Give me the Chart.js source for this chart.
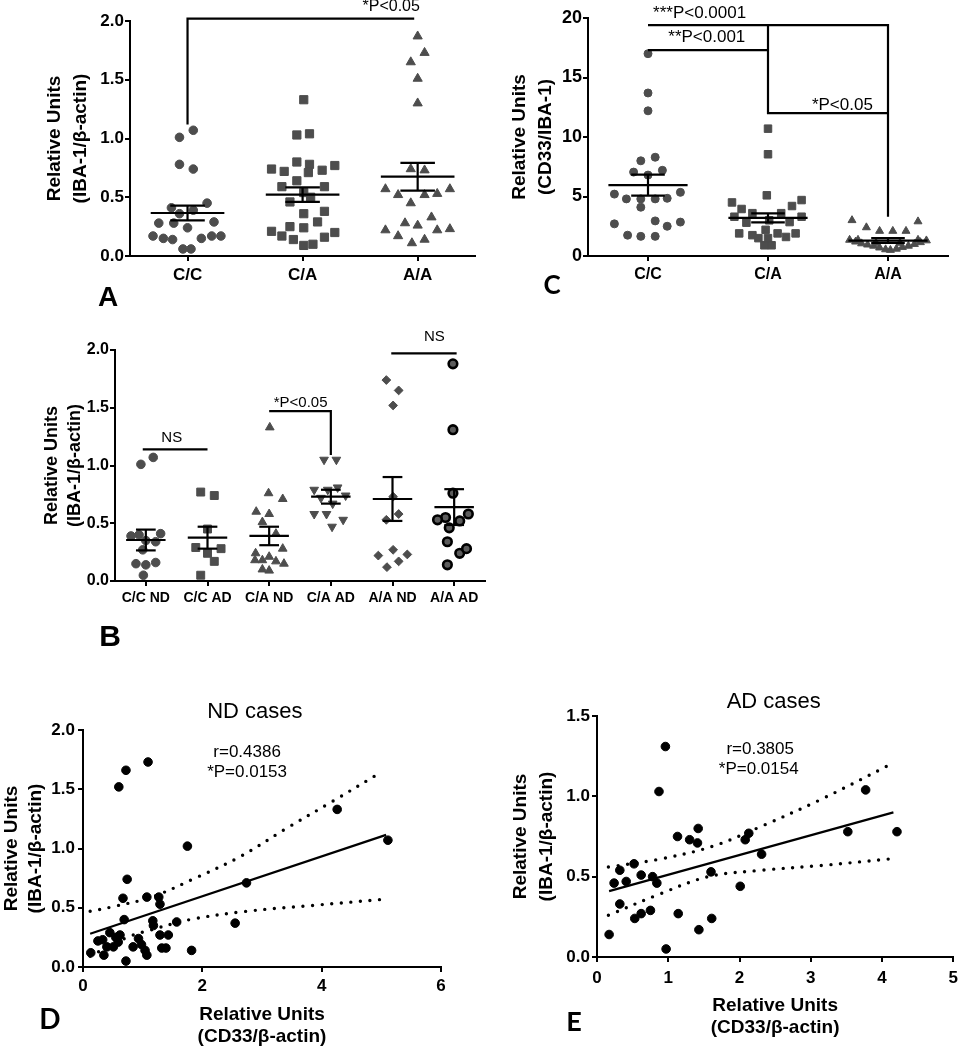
<!DOCTYPE html>
<html>
<head>
<meta charset="utf-8">
<script src="https://cdn.jsdelivr.net/npm/chart.js@4.4.1/dist/chart.umd.min.js"></script>
<style>
body { margin: 0; background: #fff; }
#wrap { position: relative; width: 964px; height: 1050px; }
canvas { position: absolute; }
</style>
</head>
<body>
<div id="wrap">
  <canvas id="chartA" style="left:0;top:0" width="482" height="312"></canvas>
  <canvas id="chartC" style="left:482px;top:0" width="482" height="312"></canvas>
  <canvas id="chartB" style="left:0;top:320px" width="500" height="335"></canvas>
  <canvas id="chartD" style="left:0;top:680px" width="470" height="370"></canvas>
  <canvas id="chartE" style="left:480px;top:680px" width="484" height="370"></canvas>
</div>
<script>
// ---------- panel A : IBA-1/beta-actin by genotype ----------
var aCats = ['C/C', 'C/A', 'A/A'];
var aCC  = [1.01, 1.07, 0.78, 0.74, 0.45, 0.41, 0.39, 0.36, 0.28, 0.28, 0.24, 0.29, 0.17, 0.15, 0.14, 0.15, 0.17, 0.17, 0.06, 0.06];
var aCCj = [-0.07, 0.05, -0.07, 0.05, 0.17, -0.14, 0.05, -0.07, -0.25, -0.12, 0.00, 0.23, -0.30, -0.21, -0.13, 0.12, 0.21, 0.29, -0.04, 0.03];
var aCA  = [0.74, 0.72, 0.80, 0.78, 0.71, 0.73, 0.77, 1.03, 1.04, 1.33, 0.64, 0.59, 0.59, 0.54, 0.50, 0.46, 0.36, 0.38, 0.29, 0.25, 0.24, 0.21, 0.17, 0.14, 0.16, 0.20, 0.09, 0.10];
var aCAj = [-0.27, -0.16, -0.05, 0.06, 0.05, 0.17, 0.28, -0.05, 0.06, 0.01, -0.05, -0.18, 0.19, 0.01, 0.07, -0.11, 0.01, 0.19, 0.13, -0.11, 0.01, -0.27, -0.18, -0.08, 0.19, 0.28, 0.01, 0.09];
var aAA  = [1.87, 1.73, 1.65, 1.51, 1.30, 0.74, 0.73, 0.57, 0.52, 0.45, 0.52, 0.53, 0.57, 0.33, 0.28, 0.26, 0.22, 0.22, 0.23, 0.17, 0.11, 0.14];
var aAAj = [0.00, 0.06, -0.06, 0.00, 0.00, -0.06, 0.06, -0.28, -0.17, -0.06, 0.06, 0.17, 0.28, 0.12, -0.11, 0.00, -0.28, 0.17, 0.28, -0.17, -0.05, 0.06];
var aMean = [0.366, 0.522, 0.675];
var aSem  = [0.063, 0.062, 0.118];
var aBrX = [[0, 0, 1.97]];
var aBrY = [[1.12, 2.02, 2.02]];
var aNote = ['*P<0.05'], aNoteX = [1.77], aNoteY = [2.12];

// ---------- panel C : CD33/IBA-1 by genotype ----------
var cCats = ['C/C', 'C/A', 'A/A'];
var cCC  = [17.0, 13.7, 12.2, 8.0, 8.3, 7.05, 7.2, 6.8, 5.2, 5.35, 4.8, 4.8, 4.8, 4.85, 4.1, 2.7, 2.95, 2.85, 2.5, 1.75, 1.65, 1.65];
var cCCj = [0, 0, 0, -0.06, 0.06, -0.12, 0.12, 0, -0.28, 0.27, -0.18, -0.06, 0.06, 0.16, -0.06, -0.28, 0.06, 0.27, 0.16, -0.17, -0.06, 0.06];
var cCA  = [10.7, 8.55, 5.1, 4.5, 4.7, 3.95, 4.2, 3.3, 3.3, 3.6, 3.6, 2.8, 3.0, 2.85, 1.9, 1.75, 2.2, 1.9, 1.6, 1.9, 1.5, 0.9, 0.9, 1.5];
var cCAj = [0, 0, -0.01, -0.30, 0.28, -0.22, 0.20, -0.28, 0.28, -0.13, 0.11, -0.18, 0.01, 0.18, -0.24, -0.13, -0.02, 0.08, 0.15, 0.23, -0.08, -0.03, 0.03, 0];
var cAA  = [3.0, 2.4, 2.1, 2.1, 2.1, 2.9, 1.35, 1.2, 1.05, 0.95, 0.85, 0.7, 0.55, 0.5, 0.6, 0.75, 0.85, 1.0, 1.15, 1.3, 1.35, 1.35, 1.1, 1.1];
var cAAj = [-0.30, -0.18, -0.07, 0.04, 0.15, 0.25, -0.32, -0.27, -0.22, -0.17, -0.12, -0.07, -0.02, 0.02, 0.07, 0.12, 0.17, 0.22, 0.27, 0.32, -0.25, 0.25, -0.10, 0.10];
var cMean = [5.95, 3.2, 1.3];
var cSem  = [0.88, 0.38, 0.2];
var cBrX = [[0, 2, 2], [0, 1], [1, 1, 2]];
var cBrY = [[19.4, 19.4, 3.3], [17.3, 17.3], [19.4, 12.0, 12.0]];
var cNote = ['***P<0.0001', '**P<0.001', '*P<0.05'], cNoteX = [0.43, 0.49, 1.62], cNoteY = [20.4, 18.4, 12.7];

// ---------- panel B : IBA-1/beta-actin by genotype and diagnosis ----------
var bCats = ['C/C ND', 'C/C AD', 'C/A ND', 'C/A AD', 'A/A ND', 'A/A AD'];
var bCCND  = [1.01, 1.07, 0.39, 0.40, 0.41, 0.35, 0.34, 0.27, 0.15, 0.14, 0.16, 0.05];
var bCCNDj = [-0.08, 0.12, -0.24, -0.11, 0.24, 0, 0.16, -0.05, -0.16, 0, 0.16, -0.04];
var bCCAD  = [0.77, 0.74, 0.45, 0.29, 0.28, 0.24, 0.17, 0.05];
var bCCADj = [-0.11, 0.11, 0, -0.19, 0.22, 0, 0.11, -0.11];
var bCAND  = [1.33, 0.76, 0.71, 0.60, 0.58, 0.51, 0.41, 0.28, 0.24, 0.21, 0.18, 0.17, 0.15, 0.09, 0.10, 0.18];
var bCANDj = [0.01, -0.01, 0.22, -0.21, 0, -0.11, 0.11, 0.22, -0.22, 0, -0.11, 0.11, 0.24, 0, -0.11, -0.23];
var bCAAD  = [1.05, 1.05, 0.79, 0.79, 0.81, 0.74, 0.72, 0.67, 0.58, 0.58, 0.53, 0.47];
var bCAADj = [-0.11, 0.09, -0.27, -0.05, 0.11, 0.24, -0.16, 0.03, -0.27, -0.07, 0.20, 0.02];
var bAAND  = [1.74, 1.65, 1.52, 0.73, 0.58, 0.53, 0.27, 0.22, 0.23, 0.17, 0.12];
var bAANDj = [-0.10, 0.10, 0.01, 0.01, 0.10, -0.10, 0.01, -0.23, 0.24, 0.10, -0.09];
var bAAAD  = [1.88, 1.31, 0.76, 0.55, 0.52, 0.58, 0.46, 0.34, 0.24, 0.28, 0.14, 0.53];
var bAAADj = [-0.02, -0.02, -0.02, -0.14, 0.09, 0.23, -0.08, -0.11, 0.09, 0.20, -0.11, -0.27];
var bMean = [0.355, 0.375, 0.39, 0.73, 0.71, 0.64];
var bSem  = [0.09, 0.095, 0.08, 0.06, 0.19, 0.155];
var bBrX = [[-0.05, 1.0], [2, 3, 3], [3.98, 5.04]];
var bBrY = [[1.14, 1.14], [1.47, 1.47, 1.09], [1.97, 1.97]];
var bNote = ['NS', '*P<0.05', 'NS'], bNoteX = [0.42, 2.51, 4.68], bNoteY = [1.24, 1.54, 2.11];

// ---------- panel D : ND cases correlation ----------
var dX = [0.13, 0.35, 0.33, 0.45, 0.51, 0.62, 0.59, 0.40, 0.69, 0.72, 0.84, 0.93, 0.98, 1.07, 1.04, 1.17, 1.18, 1.29, 1.43, 1.32, 1.39, 1.57, 1.82, 0.67, 1.29, 1.07, 1.27, 0.74, 1.75, 0.60, 0.72, 1.09, 2.55, 2.74, 4.26, 5.11, 0.25, 0.55];
var dY = [0.12, 0.10, 0.23, 0.29, 0.17, 0.27, 0.21, 0.17, 0.40, 0.05, 0.17, 0.24, 0.19, 0.10, 0.14, 0.39, 0.35, 0.27, 0.27, 0.16, 0.16, 0.38, 0.14, 0.58, 0.53, 0.59, 0.59, 0.74, 1.02, 1.52, 1.66, 1.73, 0.37, 0.71, 1.33, 1.07, 0.22, 0.25];
var dFitX = [0.12, 5.08], dFitY = [0.28, 1.115];
var dUpX  = [0.12, 0.51, 1.15, 1.88, 2.63, 3.41, 4.19, 4.95];
var dUpY  = [0.47, 0.51, 0.59, 0.75, 0.93, 1.17, 1.40, 1.63];
var dLoX  = [0.12, 0.45, 0.79, 1.12, 1.79, 2.74, 3.86, 5.01];
var dLoY  = [0.09, 0.18, 0.26, 0.31, 0.40, 0.47, 0.52, 0.57];
var dNote = ['ND cases', 'r=0.4386', '*P=0.0153'], dNoteX = [2.88, 2.75, 2.75], dNoteY = [2.15, 1.81, 1.64];

// ---------- panel E : AD cases correlation ----------
var eX = [0.17, 0.24, 0.32, 0.32, 0.41, 0.52, 0.53, 0.62, 0.62, 0.75, 0.78, 0.84, 0.87, 0.96, 0.97, 1.13, 1.14, 1.30, 1.41, 1.42, 1.43, 1.60, 1.61, 2.01, 2.08, 2.13, 2.31, 3.52, 3.77, 4.21];
var eY = [0.14, 0.46, 0.54, 0.33, 0.47, 0.58, 0.24, 0.51, 0.27, 0.29, 0.50, 0.46, 1.03, 1.31, 0.05, 0.75, 0.27, 0.73, 0.71, 0.80, 0.17, 0.53, 0.24, 0.44, 0.73, 0.77, 0.64, 0.78, 1.04, 0.78];
var eFitX = [0.17, 4.16], eFitY = [0.41, 0.90];
var eUpX  = [0.16, 0.89, 1.63, 2.34, 3.14, 4.08];
var eUpY  = [0.56, 0.61, 0.69, 0.82, 0.98, 1.19];
var eLoX  = [0.16, 0.87, 1.56, 2.31, 3.16, 4.10];
var eLoY  = [0.26, 0.39, 0.50, 0.54, 0.57, 0.61];
var eNote = ['AD cases', 'r=0.3805', '*P=0.0154'], eNoteX = [2.48, 2.29, 2.27], eNoteY = [1.59, 1.29, 1.17];

var FONT = "'Liberation Sans', Arial, sans-serif";
var GRAY = '#4d4d4d';
Chart.defaults.font.family = FONT;
Chart.defaults.color = '#000';

// mean/SEM bars, comparison brackets, notes and the panel letter
var extras = {
    id: 'extras',
    afterDatasetsDraw: function (chart, args, o) {
        var ctx = chart.ctx, xs = chart.scales.x, ys = chart.scales.y;
        function seg(x1, y1, x2, y2) {
            ctx.beginPath(); ctx.moveTo(x1, y1); ctx.lineTo(x2, y2); ctx.stroke();
        }
        ctx.save();
        ctx.strokeStyle = '#000';
        ctx.lineWidth = 2.2;
        (o.means || []).forEach(function (m, i) {
            var s = o.sems[i];
            var xc = xs.getPixelForValue(i);
            var ym = ys.getPixelForValue(m), yt = ys.getPixelForValue(m + s), yb = ys.getPixelForValue(m - s);
            var cl = xs.getPixelForValue(i - o.capW), cr = xs.getPixelForValue(i + o.capW);
            seg(xs.getPixelForValue(i - o.meanW), ym, xs.getPixelForValue(i + o.meanW), ym);
            seg(xc, yt, xc, yb);
            seg(cl, yt, cr, yt);
            seg(cl, yb, cr, yb);
        });
        (o.brX || []).forEach(function (bx, k) {
            var by = o.brY[k];
            ctx.beginPath();
            bx.forEach(function (v, j) {
                var px = xs.getPixelForValue(v), py = ys.getPixelForValue(by[j]);
                if (j === 0) ctx.moveTo(px, py); else ctx.lineTo(px, py);
            });
            ctx.stroke();
        });
        ctx.fillStyle = '#000';
        ctx.textAlign = 'center';
        ctx.textBaseline = 'middle';
        (o.notes || []).forEach(function (t, k) {
            ctx.font = (o.noteFonts && o.noteFonts[k]) || o.noteFont;
            ctx.fillText(t, xs.getPixelForValue(o.noteX[k]), ys.getPixelForValue(o.noteY[k]));
        });
        if (o.letter) {
            ctx.font = o.letter.font;
            ctx.fillText(o.letter.text, o.letter.x, o.letter.y);
        }
        ctx.restore();
    }
};
Chart.register(extras);

function edge(tickLen) {
    return {
        border: { display: true, color: '#000', width: 2 },
        grid: { display: true, drawOnChartArea: false, drawTicks: true, tickLength: tickLen, color: '#000', lineWidth: 2 }
    };
}

function catAxis(cats, size, pad, height) {
    var a = edge(5);
    a.type = 'linear';
    a.min = -0.5;
    a.max = cats.length - 0.5;
    a.afterBuildTicks = function (s) { s.ticks = cats.map(function (c, i) { return { value: i }; }); };
    a.afterFit = function (s) { s.height = height; };
    a.ticks = { color: '#000', padding: pad, maxRotation: 0, minRotation: 0, autoSkip: false,
        font: { size: size, weight: 'bold' },
        callback: function (v) { return cats[Math.round(v)]; } };
    return a;
}

function numAxis(o) {
    var a = edge(5);
    a.type = 'linear';
    a.min = o.min; a.max = o.max;
    a.afterFit = o.vertical ? function (s) { s.width = o.box; } : function (s) { s.height = o.box; };
    a.ticks = { color: '#000', padding: o.pad, stepSize: o.step, font: { size: o.size, weight: 'bold' },
        callback: function (v) { return v.toFixed(o.dec); } };
    if (o.title) {
        a.title = { display: true, text: o.title, color: '#000', padding: o.titlePad,
            font: { size: o.titleSize, weight: 'bold', lineHeight: o.titleLh } };
    }
    return a;
}

function groupSet(idx, vals, jit, style, opts) {
    var d = {
        data: vals.map(function (v, i) { return { x: idx + jit[i], y: v }; }),
        pointStyle: style, pointRadius: 4.3, pointBackgroundColor: GRAY, pointBorderColor: GRAY,
        pointBorderWidth: 1, clip: false
    };
    for (var k in opts) d[k] = opts[k];
    return d;
}

function xy(xv, yv) {
    return xv.map(function (v, i) { return { x: v, y: yv[i] }; });
}

function baseOptions(pad, scales, ex) {
    return {
        responsive: false, animation: false, events: [],
        layout: { padding: pad },
        scales: scales,
        plugins: { legend: { display: false }, tooltip: { enabled: false }, extras: ex }
    };
}

// ----- A -----
new Chart(document.getElementById('chartA'), {
    type: 'scatter',
    data: { datasets: [
        groupSet(0, aCC, aCCj, 'circle', {}),
        groupSet(1, aCA, aCAj, 'rect', { pointRadius: 5.8 }),
        groupSet(2, aAA, aAAj, 'triangle', { pointRadius: 5.3 })
    ] },
    options: baseOptions({ top: 21, right: 2, left: 0, bottom: 0 }, {
        x: catAxis(aCats, 17, 4, 56),
        y: numAxis({ vertical: true, min: 0, max: 2, step: 0.5, dec: 1, size: 17, pad: 1, box: 130,
            title: ['Relative Units', '(IBA-1/\u03b2-actin)'], titleSize: 19, titleLh: 26 / 19, titlePad: { top: 42, bottom: 0 } })
    }, {
        means: aMean, sems: aSem, meanW: 0.32, capW: 0.15,
        brX: aBrX, brY: aBrY,
        notes: aNote, noteX: aNoteX, noteY: aNoteY, noteFont: '16px ' + FONT,
        letter: { text: 'A', x: 108, y: 298, font: 'bold 28px ' + FONT }
    })
});

// ----- C -----
new Chart(document.getElementById('chartC'), {
    type: 'scatter',
    data: { datasets: [
        groupSet(0, cCC, cCCj, 'circle', { pointRadius: 4 }),
        groupSet(1, cCA, cCAj, 'rect', { pointRadius: 5.3 }),
        groupSet(2, cAA, cAAj, 'triangle', { pointRadius: 4.6 })
    ] },
    options: baseOptions({ top: 18, right: 16, left: 0, bottom: 0 }, {
        x: catAxis(cCats, 16, 4, 56),
        y: numAxis({ vertical: true, min: 0, max: 20, step: 5, dec: 0, size: 18, pad: 1, box: 106,
            title: ['Relative Units', '(CD33/IBA-1)'], titleSize: 19, titleLh: 26 / 19, titlePad: { top: 25, bottom: 0 } })
    }, {
        means: cMean, sems: cSem, meanW: 0.33, capW: 0.14,
        brX: cBrX, brY: cBrY,
        notes: cNote, noteX: cNoteX, noteY: cNoteY, noteFont: '17px ' + FONT,
        letter: { text: 'C', x: 70, y: 286, font: "bold 26px Lato, 'Open Sans', sans-serif" }
    })
});

// ----- B -----
new Chart(document.getElementById('chartB'), {
    type: 'scatter',
    data: { datasets: [
        groupSet(0, bCCND, bCCNDj, 'circle', { pointRadius: 4.3 }),
        groupSet(1, bCCAD, bCCADj, 'rect', { pointRadius: 5.6 }),
        groupSet(2, bCAND, bCANDj, 'triangle', { pointRadius: 5 }),
        groupSet(3, bCAAD, bCAADj, 'triangle', { pointRadius: 5, pointRotation: 180 }),
        groupSet(4, bAAND, bAANDj, 'rectRot', { pointRadius: 4.4 }),
        groupSet(5, bAAAD, bAAADj, 'circle', { pointRadius: 4.3, pointBackgroundColor: '#5c5c5c', pointBorderColor: '#000', pointBorderWidth: 2.6 })
    ] },
    options: baseOptions({ top: 30, right: 15, left: 0, bottom: 0 }, {
        x: catAxis(bCats, 14, 4, 74),
        y: numAxis({ vertical: true, min: 0, max: 2, step: 0.5, dec: 1, size: 16, pad: 1, box: 115,
            title: ['Relative Units', '(IBA-1/\u03b2-actin)'], titleSize: 18, titleLh: 23.5 / 18, titlePad: { top: 40, bottom: 0 } })
    }, {
        means: bMean, sems: bSem, meanW: 0.32, capW: 0.16,
        brX: bBrX, brY: bBrY,
        notes: bNote, noteX: bNoteX, noteY: bNoteY, noteFont: '15px ' + FONT,
        letter: { text: 'B', x: 110, y: 318, font: 'bold 30px ' + FONT }
    })
});

// ----- D -----
function corrSets(px, py, fx, fy, ux, uy, lx, ly) {
    var band = { showLine: true, pointRadius: 0, borderColor: '#000', borderWidth: 3.4,
        borderDash: [0, 9.6], borderCapStyle: 'round', tension: 0.35 };
    return [
        { data: xy(px, py), pointRadius: 4.3, pointBackgroundColor: '#000', pointBorderColor: '#000', clip: false },
        { data: xy(fx, fy), showLine: true, pointRadius: 0, borderColor: '#000', borderWidth: 2.2 },
        Object.assign({ data: xy(ux, uy) }, band),
        Object.assign({ data: xy(lx, ly) }, band)
    ];
}

new Chart(document.getElementById('chartD'), {
    type: 'scatter',
    data: { datasets: corrSets(dX, dY, dFitX, dFitY, dUpX, dUpY, dLoX, dLoY) },
    options: baseOptions({ top: 50, right: 29, left: 0, bottom: 0 }, {
        x: numAxis({ min: 0, max: 6, step: 2, dec: 0, size: 17, pad: 4, box: 83,
            title: ['Relative Units', '(CD33/\u03b2-actin)'], titleSize: 19, titleLh: 22 / 19, titlePad: { top: 0, bottom: 2 } }),
        y: numAxis({ vertical: true, min: 0, max: 2, step: 0.5, dec: 1, size: 17, pad: 3, box: 83,
            title: ['Relative Units', '(IBA-1/\u03b2-actin)'], titleSize: 19, titleLh: 24 / 19, titlePad: { top: 0, bottom: 0 } })
    }, {
        notes: dNote, noteX: dNoteX, noteY: dNoteY, noteFont: '17px ' + FONT,
        noteFonts: ['22px ' + FONT],
        letter: { text: 'D', x: 50, y: 340, font: "bold 28px Lato, 'Open Sans', sans-serif" }
    })
});

// ----- E -----
new Chart(document.getElementById('chartE'), {
    type: 'scatter',
    data: { datasets: corrSets(eX, eY, eFitX, eFitY, eUpX, eUpY, eLoX, eLoY) },
    options: baseOptions({ top: 36, right: 4, left: 0, bottom: 0 }, {
        x: numAxis({ min: 0, max: 5, step: 1, dec: 0, size: 17, pad: 6, box: 93,
            title: ['Relative Units', '(CD33/\u03b2-actin)'], titleSize: 19, titleLh: 22 / 19, titlePad: { top: 0, bottom: 11 } }),
        y: numAxis({ vertical: true, min: 0, max: 1.5, step: 0.5, dec: 1, size: 17, pad: 2, box: 117,
            title: ['Relative Units', '(IBA-1/\u03b2-actin)'], titleSize: 19, titleLh: 26 / 19, titlePad: { top: 28, bottom: 0 } })
    }, {
        notes: eNote, noteX: eNoteX, noteY: eNoteY, noteFont: '17px ' + FONT,
        noteFonts: ['22px ' + FONT],
        letter: { text: 'E', x: 94, y: 342, font: "bold 27px Lato, 'Open Sans', sans-serif" }
    })
});
</script>
</body>
</html>
